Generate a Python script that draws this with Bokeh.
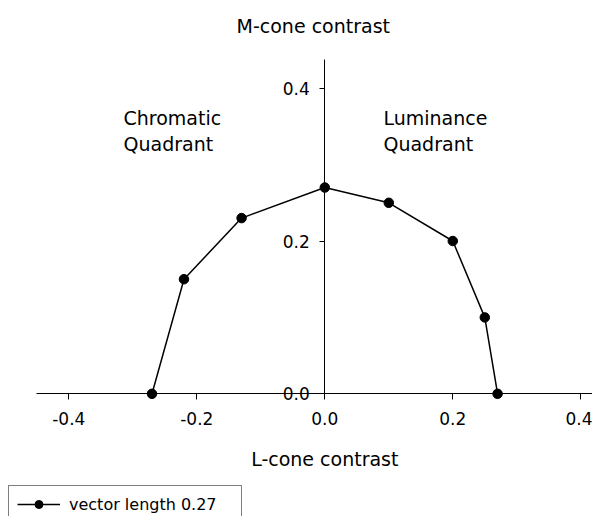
from bokeh.plotting import figure
from bokeh.models import (LinearAxis, FixedTicker, Range1d, Label, Legend, LegendItem,
                          ColumnDataSource)
from bokeh.embed import file_html
from bokeh.resources import INLINE

# ---- data ----
l_cone = [-0.27, -0.22, -0.13, 0.0, 0.10, 0.20, 0.25, 0.27]
m_cone = [0.0, 0.15, 0.23, 0.27, 0.25, 0.20, 0.10, 0.0]
series_name = "vector length 0.27"
x_ticks = [-0.4, -0.2, 0.0, 0.2, 0.4]
x_tick_labels = ["-0.4", "-0.2", "0.0", "0.2", "0.4"]
y_ticks = [0.0, 0.2, 0.4]
y_tick_labels = ["0.0", "0.2", "0.4"]
x_title = "L-cone contrast"
y_title = "M-cone contrast"
left_note = ["Chromatic", "Quadrant"]
right_note = ["Luminance", "Quadrant"]

FONT = "DejaVu Sans"

p = figure(width=592, height=516, output_backend="svg", toolbar_location=None,
           x_axis_location=None, y_axis_location=None,
           x_range=Range1d(-0.5067, 0.4183), y_range=Range1d(-0.1606, 0.5148),
           min_border=0, min_border_left=0, min_border_right=0,
           min_border_top=0, min_border_bottom=0)
p.outline_line_color = None
p.xgrid.visible = False
p.ygrid.visible = False
p.background_fill_color = "white"
p.border_fill_color = "white"

xa = LinearAxis(fixed_location=0, bounds=(-0.45, 0.45),
                ticker=FixedTicker(ticks=x_ticks, minor_ticks=[]))
xa.major_label_overrides = {t: s for t, s in zip(x_ticks, x_tick_labels)}
xa.major_tick_out = 6
xa.major_tick_in = 0
xa.minor_tick_out = 0
xa.minor_tick_in = 0
xa.major_label_standoff = 12
xa.major_label_text_font = FONT
xa.major_label_text_font_size = "17px"
xa.major_label_text_color = "black"
xa.axis_line_color = "black"
xa.major_tick_line_color = "black"
p.add_layout(xa, "below")

ya = LinearAxis(fixed_location=0, bounds=(0.0, 0.437),
                ticker=FixedTicker(ticks=y_ticks, minor_ticks=[]))
ya.major_label_overrides = {t: s for t, s in zip(y_ticks, y_tick_labels)}
ya.major_tick_out = 5
ya.major_tick_in = 0
ya.minor_tick_out = 0
ya.minor_tick_in = 0
ya.major_label_standoff = 10
ya.major_label_text_font = FONT
ya.major_label_text_font_size = "17px"
ya.major_label_text_color = "black"
ya.axis_line_color = "black"
ya.major_tick_line_color = "black"
ya.major_label_orientation = "horizontal"
p.add_layout(ya, "left")

src = ColumnDataSource(dict(x=l_cone, y=m_cone))
ln = p.line("x", "y", source=src, line_color="black", line_width=1.5)
sc = p.scatter("x", "y", source=src, size=9.5, fill_color="black", line_color="black")

def lab(x, y, t, align="left"):
    p.add_layout(Label(x=x, y=y, text=t, text_font=FONT, text_font_size="19px",
                       text_align=align, text_baseline="middle", text_color="black"))

lab(-0.018, 0.482, y_title, "center")
lab(0.0, -0.0847, x_title, "center")
lab(-0.3145, 0.3613, left_note[0])
lab(-0.3145, 0.3272, left_note[1])
lab(0.0917, 0.3613, right_note[0])
lab(0.0917, 0.3272, right_note[1])

leg = Legend(items=[LegendItem(label=series_name, renderers=[ln, sc])],
             location=(8, -7), orientation="vertical",
             glyph_width=43, glyph_height=20, label_standoff=9, padding=8,
             label_width=164, spacing=0, margin=0,
             border_line_color="black", border_line_width=1,
             background_fill_color="white", background_fill_alpha=1,
             label_text_font=FONT, label_text_font_size="16px",
             label_text_color="black")
p.add_layout(leg, "center")

open("out.html", "w").write(file_html(p, INLINE))
